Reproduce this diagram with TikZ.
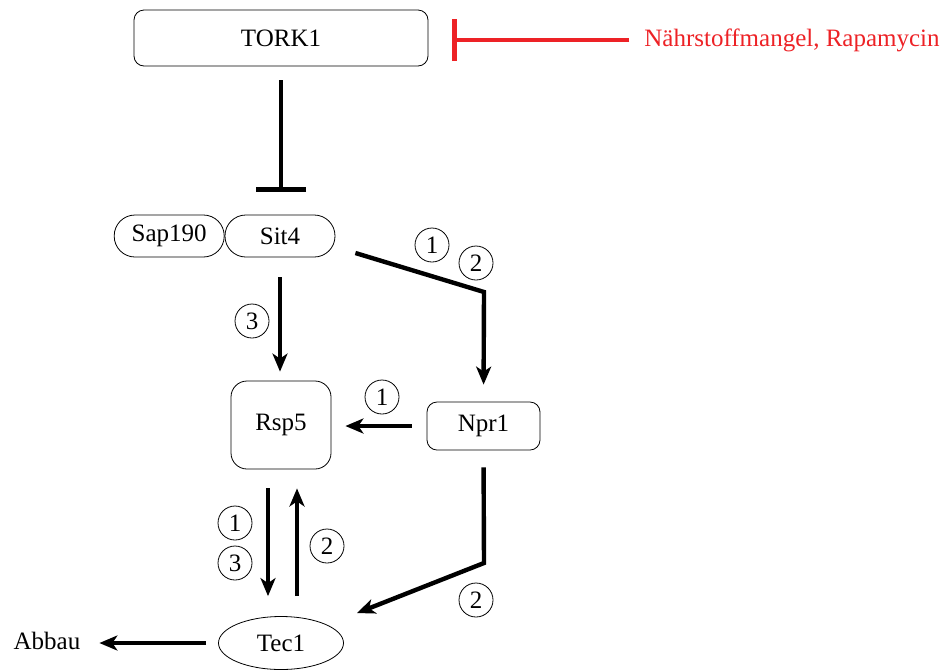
\documentclass[tikz,border=0pt]{standalone}
\usepackage{fontspec}
\setmainfont{Liberation Serif}
\usetikzlibrary{arrows.meta, positioning, shapes.geometric}
\definecolor{inhibred}{RGB}{237,34,38}

\begin{document}
\begin{tikzpicture}[
    x=0.5pt, y=-0.5pt,
    font=\rmfamily\fontsize{12.5}{14}\selectfont,
    box/.style={draw, rectangle, thin, rounded corners=#1},
    pill/.style={draw, rectangle, thin, rounded corners=10.4pt, minimum width=55pt, minimum height=21pt, inner sep=0pt},
    num/.style={draw, circle, thin, minimum size=17pt, inner sep=0pt},
    arrow/.style={-{Stealth[length=9pt, width=7.5pt, inset=2.5pt]}, line width=2.2pt},
    inhib/.style={-{Bar[width=25pt]}, line width=2.2pt}
    ]
    \useasboundingbox (0,0) rectangle (947,671);

    \node[box=5pt, minimum width=147pt, minimum height=28pt] (tork) at (281,38) {TORK1};
    \node[text=inhibred] (nutrient) at (792,40) {Nährstoffmangel, Rapamycin};

    \node[pill] (sit4) at (280,236) {Sit4};
    \node[pill, left=0pt of sit4] (sap190) {Sap190};

    \node[box=8pt, minimum width=50pt, minimum height=44pt] (rsp5) at (281,425) {Rsp5};
    \node[box=5pt, minimum width=56.5pt, minimum height=24pt] (npr1) at (483.5,426) {Npr1};
    \node[draw, ellipse, thin, minimum width=62.5pt, minimum height=26.5pt, inner sep=0pt] (tec1) at (281,643) {Tec1};
    \node (abbau) at (47,641) {Abbau};

    \coordinate (turn_a) at (484,292);
    \coordinate (turn_b) at (484,563);

    \draw[-{Bar[width=21pt]}, line width=2.2pt, inhibred, shorten <=4pt, shorten >=12pt] (nutrient.west) -- (nutrient.west -| tork.east);
    \draw[inhib, shorten <=7pt, shorten >=11.5pt] (tork.south) -- (tork.south |- sit4.north);

    \draw[arrow, shorten >=8.5pt] ([xshift=10pt, yshift=-8.5pt]sit4.east) -- (turn_a) -- (npr1.north);
    \draw[arrow, shorten <=10pt, shorten >=4.5pt] (sit4.south) -- (sit4.south |- rsp5.north);
    \draw[arrow, shorten <=7.5pt, shorten >=7pt] (npr1.west) -- (npr1.west -| rsp5.east);

    \draw[arrow, shorten <=9.5pt, shorten >=10pt] ([xshift=-6.5pt]rsp5.south) -- ([xshift=-6.5pt]rsp5.south |- tec1.north);
    \draw[arrow, shorten <=10pt, shorten >=9.5pt] ([xshift=8pt]rsp5.south |- tec1.north) -- ([xshift=8pt]rsp5.south);
    \draw[arrow, shorten <=8.5pt, shorten >=16pt] (npr1.south) -- (turn_b) -- (tec1);
    \draw[arrow, shorten <=6pt, shorten >=6pt] (tec1.west) -- (abbau.east |- tec1.west);

    \node[num] (n1_top) at (432,245) {1};
    \node[num] (n2_top) at (476,263) {2};
    \node[num] (n3_sit) at (252,321) {3};
    \node[num] (n1_npr) at (382,397) {1};
    \node[num] (n1_down) at (235,523) {1};
    \node[num] (n3_down) at (235,563) {3};
    \node[num] (n2_up) at (327,546) {2};
    \node[num] (n2_npr) at (476,600) {2};

\end{tikzpicture}
\end{document}
